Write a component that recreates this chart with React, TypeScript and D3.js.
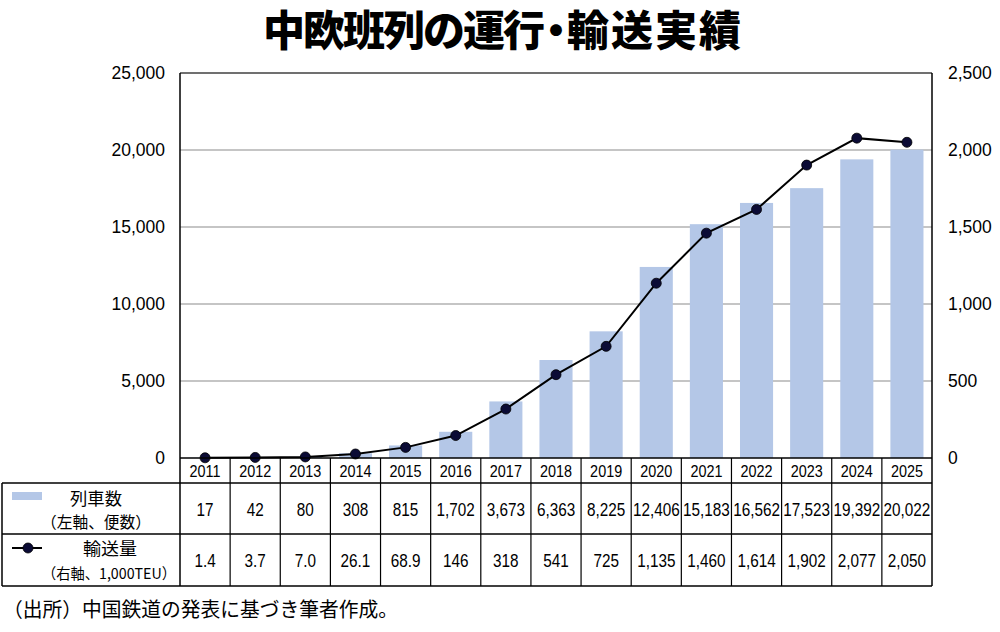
import * as d3 from 'd3'

const years = ['2011', '2012', '2013', '2014', '2015', '2016', '2017', '2018', '2019', '2020', '2021', '2022', '2023', '2024', '2025']
const trains = [17, 42, 80, 308, 815, 1702, 3673, 6363, 8225, 12406, 15183, 16562, 17523, 19392, 20022]
const volume = [1.4, 3.7, 7.0, 26.1, 68.9, 146, 318, 541, 725, 1135, 1460, 1614, 1902, 2077, 2050]
const volumeLabels = ['1.4', '3.7', '7.0', '26.1', '68.9', '146', '318', '541', '725', '1,135', '1,460', '1,614', '1,902', '2,077', '2,050']
const leftTicks = [0, 5000, 10000, 15000, 20000, 25000]
const rightTicks = [0, 500, 1000, 1500, 2000, 2500]

const W = 1000
const H = 632
const plot = { left: 180, right: 932, top: 73, bottom: 458 }
const rows = { year: 483, r1: 534, r2: 586, tableLeft: 2 }

const latin = '"Liberation Sans", Arial, sans-serif'
const jp = '"Noto Sans CJK JP", "Liberation Sans", sans-serif'

export default function App() {
  const x = d3.scaleBand<string>()
    .domain(years)
    .range([plot.left, plot.right])
    .paddingInner(0.34)
    .paddingOuter(0.17)
  const step = x.step()
  const yL = d3.scaleLinear().domain([0, 25000]).range([plot.bottom, plot.top])
  const yR = d3.scaleLinear().domain([0, 2500]).range([plot.bottom, plot.top])
  const fmt = d3.format(',')
  const cx = (y: string) => (x(y) || 0) + x.bandwidth() / 2

  // straight segments between points, as in the source
  const line = d3.line<number>()
    .x((_, i) => cx(years[i]))
    .y(d => yR(d))

  const colLines = d3.range(1, years.length).map(i => plot.left + i * step)

  return (
    <svg width={W} height={H} style={{ display: 'block', position: 'absolute', left: 0, top: 0, background: '#fff' }}>
      {/* title: tighter around the middle dot */}
      <text x={263} y={46} fontFamily={jp} fontWeight={900} fontSize={42}>
        <tspan letterSpacing={-2}>中欧班列の運行</tspan>
        <tspan dx={-8} letterSpacing={-2}>・</tspan>
        <tspan dx={-8} letterSpacing={2}>輸送実績</tspan>
      </text>

      {/* grid */}
      {leftTicks.slice(1, -1).map(t => (
        <line key={t} x1={plot.left} x2={plot.right} y1={yL(t)} y2={yL(t)} stroke="#8c8c8c" strokeWidth={1.2} />
      ))}

      {/* bars */}
      {trains.map((v, i) => (
        <rect key={years[i]} x={x(years[i])} y={yL(v)} width={x.bandwidth()} height={plot.bottom - yL(v)} fill="#b4c7e7" />
      ))}

      {/* line */}
      <path d={line(volume) || ''} fill="none" stroke="#000" strokeWidth={2} />
      {volume.map((v, i) => (
        <circle key={years[i]} cx={cx(years[i])} cy={yR(v)} r={5} fill="#0b0b35" stroke="#000" strokeWidth={0.8} />
      ))}

      {/* frame */}
      <line x1={plot.left} x2={plot.right} y1={plot.top} y2={plot.top} stroke="#404040" strokeWidth={1.5} />
      <line x1={plot.left} x2={plot.left} y1={plot.top} y2={rows.r2} stroke="#000" strokeWidth={1.5} />
      <line x1={plot.right} x2={plot.right} y1={plot.top} y2={rows.r2} stroke="#000" strokeWidth={1.5} />
      <line x1={plot.left} x2={plot.right} y1={plot.bottom} y2={plot.bottom} stroke="#000" strokeWidth={1.5} />

      {/* axis labels */}
      {leftTicks.map(t => (
        <text key={t} x={165} y={yL(t) + 6} textAnchor="end" fontFamily={latin} fontSize={17.5}>{fmt(t)}</text>
      ))}
      {rightTicks.map(t => (
        <text key={t} x={948} y={yR(t) + 6} textAnchor="start" fontFamily={latin} fontSize={17.5}>{fmt(t)}</text>
      ))}

      {/* table */}
      {[rows.year, rows.r1, rows.r2].map(y => (
        <line key={y} x1={rows.tableLeft} x2={plot.right} y1={y} y2={y} stroke="#000" strokeWidth={1.5} />
      ))}
      <line x1={rows.tableLeft} x2={rows.tableLeft} y1={rows.year} y2={rows.r2} stroke="#000" strokeWidth={1.5} />
      {colLines.map(cxl => (
        <line key={cxl} x1={cxl} x2={cxl} y1={plot.bottom} y2={rows.r2} stroke="#000" strokeWidth={1.2} />
      ))}

      {years.map((y, i) => (
        <g key={y} fontFamily={latin} textAnchor="middle">
          <text transform={`translate(${plot.left + (i + 0.5) * step},${477}) scale(0.9,1)`} fontSize={16}>{y}</text>
          <text transform={`translate(${plot.left + (i + 0.5) * step},${516}) scale(0.85,1)`} fontSize={18}>{fmt(trains[i])}</text>
          <text transform={`translate(${plot.left + (i + 0.5) * step},${567}) scale(0.85,1)`} fontSize={18}>{volumeLabels[i]}</text>
        </g>
      ))}

      {/* row headers */}
      <rect x={12} y={492} width={30} height={8} fill="#b4c7e7" />
      <text x={96} y={505} textAnchor="middle" fontFamily={jp} fontSize={17} textLength={52} lengthAdjust="spacingAndGlyphs">列車数</text>
      <text x={96} y={528} textAnchor="middle" fontFamily={jp} fontSize={16} textLength={110} lengthAdjust="spacingAndGlyphs">（左軸、便数）</text>

      <line x1={12} x2={42} y1={548} y2={548} stroke="#000" strokeWidth={2} />
      <circle cx={28} cy={548} r={5} fill="#0b0b35" stroke="#000" strokeWidth={0.8} />
      <text x={110} y={555} textAnchor="middle" fontFamily={jp} fontSize={17} textLength={54} lengthAdjust="spacingAndGlyphs">輸送量</text>
      <text x={109} y={579} textAnchor="middle" fontFamily={jp} fontSize={15} textLength={134} lengthAdjust="spacingAndGlyphs">（右軸、1,000TEU）</text>

      <text x={3} y={617} fontFamily={jp} fontSize={20} textLength={395} lengthAdjust="spacingAndGlyphs">（出所）中国鉄道の発表に基づき筆者作成。</text>
    </svg>
  )
}
